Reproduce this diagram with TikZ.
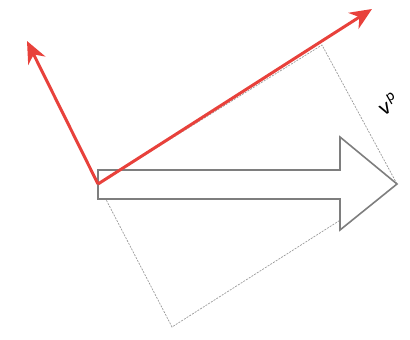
\documentclass[tikz,border=0pt]{standalone}
\usetikzlibrary{arrows.meta}
\definecolor{vecred}{HTML}{E8413B}
\definecolor{outlinegray}{HTML}{7E7E7E}
\definecolor{guidegray}{HTML}{9A9A9A}
\tikzset{
  basis/.style={vecred,line width=3pt,-{Stealth[length=22pt,width=19pt,inset=7pt]}},
  hollow/.style={draw=outlinegray,line width=1.6pt,fill=white,line join=miter},
  guide/.style={guidegray,line width=0.7pt,dash pattern=on 2pt off 1.2pt}
}
\begin{document}
\begin{tikzpicture}[x=1pt,y=-1pt]
  \useasboundingbox (0,0) rectangle (410,340);
  \coordinate (origin) at (98,184);
  \coordinate (tip) at (397,184);
  \coordinate (proj) at (322,45);
  \coordinate (perp) at (172,327);
  \coordinate (basisa) at (27,41);
  \coordinate (basisb) at (372,9);

  % projection rectangle
  \draw[guide] (origin) -- (proj) -- (tip) -- (perp) -- cycle;

  % hollow vector
  \draw[hollow] (origin) ++(0,-14) -- (340,170) -- (340,137) -- (tip)
    -- (340,230) -- (340,199) -- (98,199) -- cycle;

  % basis vectors
  \draw[basis] (origin) -- (basisa);
  \draw[basis] (origin) -- (basisb);

  \node[font=\fontsize{24}{26}\selectfont,rotate=30,inner sep=0pt] (vlabel) at (388,104) {$\mathsf{v}^{\mathsf{p}}$};
\end{tikzpicture}
\end{document}
